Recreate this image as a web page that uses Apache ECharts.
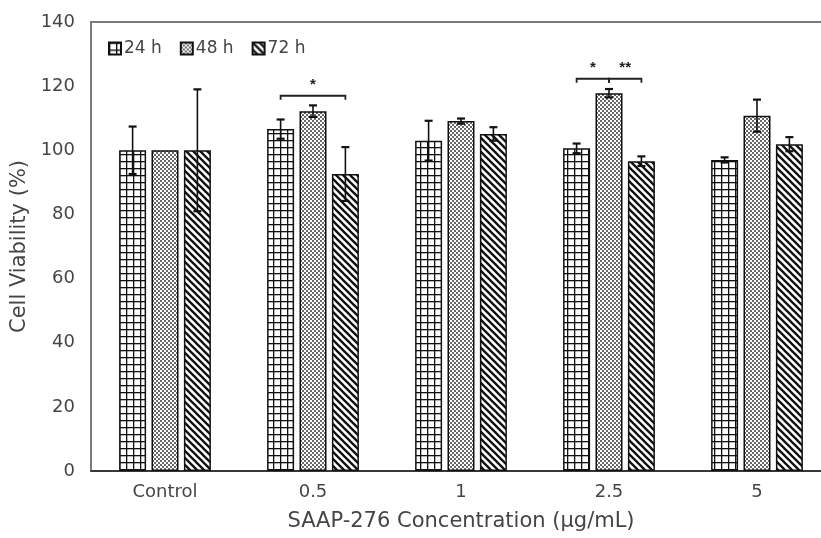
<!DOCTYPE html>
<html>
<head>
<meta charset="utf-8">
<script src="https://cdn.jsdelivr.net/npm/echarts@6/dist/echarts.min.js"></script>
<style>html,body{margin:0;padding:0;background:#fff;overflow:hidden}#c{width:850px;height:538px}</style>
</head>
<body>
<div id="c"></div>
<script>
var categories = ['Control', '0.5', '1', '2.5', '5'];
var seriesNames = ['24 h', '48 h', '72 h'];
var v24 = [100, 106.6, 103, 100.6, 97];
var v48 = [100, 112.2, 109.1, 117.8, 110.8];
var v72 = [100, 92.6, 105.1, 96.6, 101.9];
var e24 = [7.4, 3, 6.2, 1.5, 0.8];
var e48 = [0, 1.8, 0.8, 1.3, 5];
var e72 = [19, 8.4, 2.1, 1.5, 2.2];
// significance brackets: [category index, from series, to series, y value, label]
var brackets = [
  [1, 0, 2, 117, '*'],
  [3, 0, 1, 122.3, '*'],
  [3, 1, 2, 122.3, '**']
];
var yTicks = { min: 0, max: 140, interval: 20 };

var FONT = '"DejaVu Sans", "Liberation Sans", Arial, sans-serif';

function mk(w, h, draw) {
  var c = document.createElement('canvas'); c.width = w; c.height = h;
  var g = c.getContext('2d'); g.fillStyle = '#fff'; g.fillRect(0, 0, w, h); draw(g); return c;
}
var patGrid = mk(7, 7, function (g) {
  g.fillStyle = '#111'; g.fillRect(0, 0, 7, 1.3); g.fillRect(0, 0, 1.3, 7);
});
var patCheck = mk(4, 4, function (g) {
  g.fillStyle = '#6a6a6a'; g.fillRect(0, 0, 2, 2); g.fillRect(2, 2, 2, 2);
});
var patDiag = mk(7, 7, function (g) {
  g.strokeStyle = '#111'; g.lineWidth = 2.3;
  g.beginPath();
  g.moveTo(-1, -1); g.lineTo(8, 8);
  g.moveTo(-8, -1); g.lineTo(1, 8);
  g.moveTo(6, -1); g.lineTo(15, 8);
  g.stroke();
});
var patterns = [patGrid, patCheck, patDiag];
var vals = [v24, v48, v72];
var errs = [e24, e48, e72];

var BAR_W = 27, GAP = 0.2;
function offsetOf(si) { return (si - 1) * BAR_W * (1 + GAP); }

var series = [];
seriesNames.forEach(function (n, i) {
  series.push({
    name: n, type: 'bar', barWidth: BAR_W, barGap: (GAP * 100) + '%',
    data: vals[i],
    itemStyle: { color: { image: patterns[i], repeat: 'repeat' }, borderColor: '#111', borderWidth: 1.5 },
    emphasis: { disabled: true }, z: 2
  });
});
seriesNames.forEach(function (n, i) {
  series.push({
    type: 'custom', z: 5, silent: true,
    data: vals[i].map(function (v, k) { return [k, v, errs[i][k]]; }),
    renderItem: function (params, api) {
      var k = api.value(0), v = api.value(1), e = api.value(2);
      if (!e) return null;
      var top = api.coord([k, v + e]), bot = api.coord([k, v - e]);
      var x = top[0] + offsetOf(i), cw = 4;
      var st = { stroke: '#111', lineWidth: 1.6 };
      return { type: 'group', children: [
        { type: 'line', shape: { x1: x, y1: top[1], x2: x, y2: bot[1] }, style: st },
        { type: 'line', shape: { x1: x - cw, y1: top[1], x2: x + cw, y2: top[1] }, style: { stroke: '#111', lineWidth: 2.2 } },
        { type: 'line', shape: { x1: x - cw, y1: bot[1], x2: x + cw, y2: bot[1] }, style: { stroke: '#111', lineWidth: 2.2 } }
      ]};
    }
  });
});
series.push({
  type: 'custom', z: 5, silent: true,
  data: brackets,
  encode: { x: 0, y: 3 },
  renderItem: function (params, api) {
    var b = brackets[params.dataIndex];
    var p = api.coord([b[0], b[3]]);
    var x1 = p[0] + offsetOf(b[1]), x2 = p[0] + offsetOf(b[2]), y = p[1];
    var st = { stroke: '#222', lineWidth: 1.8, fill: null };
    return { type: 'group', children: [
      { type: 'polyline', shape: { points: [[x1, y + 4], [x1, y], [x2, y], [x2, y + 4]] }, style: st },
      { type: 'text', style: { text: b[4], x: (x1 + x2) / 2, y: y - 3, textAlign: 'center', textVerticalAlign: 'bottom', font: 'bold 15px "Liberation Sans", Arial', fill: '#222' } }
    ]};
  }
});

var chart = echarts.init(document.getElementById('c'));
chart.setOption({
  animation: false,
  textStyle: { fontFamily: FONT },
  grid: { left: 91, top: 22, width: 740, height: 449, show: true, borderColor: '#7a7a7a', borderWidth: 2 },
  legend: {
    data: seriesNames, left: 103, top: 35, itemWidth: 12, itemHeight: 12, itemGap: 18,
    icon: 'rect', selectedMode: false,
    textStyle: { fontSize: 17, color: '#454545', fontFamily: FONT, padding: [0, 0, 0, -2] }
  },
  xAxis: {
    type: 'category', data: categories,
    name: 'SAAP-276 Concentration (μg/mL)', nameLocation: 'middle', nameGap: 40,
    nameTextStyle: { fontSize: 21, color: '#454545', fontFamily: FONT },
    axisLine: { lineStyle: { color: '#222', width: 1.5 } },
    axisTick: { show: false },
    axisLabel: { fontSize: 18, color: '#454545', margin: 12, fontFamily: FONT }
  },
  yAxis: {
    type: 'value', min: yTicks.min, max: yTicks.max, interval: yTicks.interval,
    name: 'Cell Viability (%)', nameLocation: 'middle', nameGap: 57,
    nameTextStyle: { fontSize: 21, color: '#454545', fontFamily: FONT },
    axisLine: { show: true, lineStyle: { color: '#7a7a7a', width: 2 } },
    axisTick: { show: false }, splitLine: { show: false },
    axisLabel: { fontSize: 18, color: '#454545', margin: 16, fontFamily: FONT }
  },
  series: series
});
</script>
</body>
</html>
